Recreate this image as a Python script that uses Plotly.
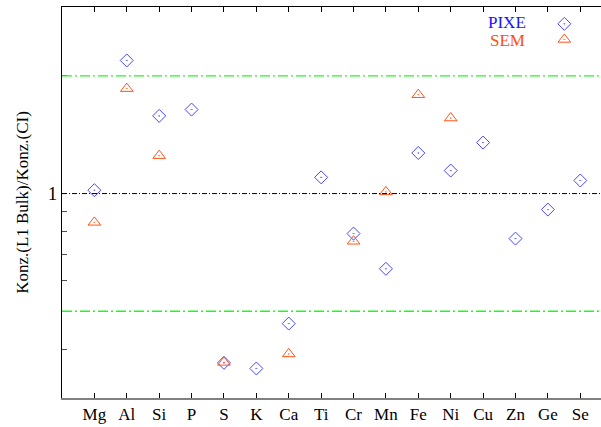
import math
import plotly.graph_objects as go

# Elements on the x axis
elements = ["Mg", "Al", "Si", "P", "S", "K", "Ca", "Ti", "Cr", "Mn",
            "Fe", "Ni", "Cu", "Zn", "Ge", "Se"]

# Concentration ratio L1 bulk / CI, measured with PIXE
pixe = [1.02, 2.19, 1.58, 1.64, 0.369, 0.357, 0.465, 1.10, 0.79, 0.642,
        1.27, 1.145, 1.35, 0.767, 0.91, 1.08]

# Same ratio measured with SEM (subset of elements)
sem_elements = ["Mg", "Al", "Si", "S", "Ca", "Cr", "Mn", "Fe", "Ni"]
sem = [0.844, 1.855, 1.25, 0.37, 0.389, 0.755, 1.01, 1.79, 1.56]

# Reference levels: unity and factor-of-two band
unity = 1.0
band = [0.5, 2.0]

ymin, ymax = 0.3, 3.0
ytickvals = [0.3, 0.4, 0.5, 0.6, 0.7, 0.8, 0.9, 1, 2, 3]
yticktext = ["", "", "", "", "", "", "", "1", "", ""]

blue = "rgb(70,70,255)"
orange = "rgb(255,85,25)"
serif = "Liberation Serif"

fig = go.Figure()

fig.add_trace(go.Scatter(
    x=elements, y=pixe, mode="markers", name="PIXE",
    marker=dict(symbol="diamond-open-dot", size=10, color=blue,
                line=dict(width=1, color=blue)),
    showlegend=False))

fig.add_trace(go.Scatter(
    x=sem_elements, y=sem, mode="markers", name="SEM",
    marker=dict(symbol="triangle-up-open-dot", size=11, color=orange,
                line=dict(width=1, color=orange)),
    showlegend=False))

# Legend symbols on an overlay axis in unit coordinates
fig.add_trace(go.Scatter(
    x=[0.932], y=[0.957], xaxis="x3", yaxis="y3", mode="markers",
    marker=dict(symbol="diamond-open-dot", size=10, color=blue,
                line=dict(width=1, color=blue)),
    showlegend=False, hoverinfo="skip"))
fig.add_trace(go.Scatter(
    x=[0.932], y=[0.917], xaxis="x3", yaxis="y3", mode="markers",
    marker=dict(symbol="triangle-up-open-dot", size=11, color=orange,
                line=dict(width=1, color=orange)),
    showlegend=False, hoverinfo="skip"))

shapes = []
for v in band:
    shapes.append(dict(type="line", xref="paper", x0=0, x1=1, yref="y",
                       y0=v, y1=v,
                       line=dict(color="rgb(30,250,30)", width=1.3,
                                 dash="10px,3px,2px,3px"),
                       layer="above"))
shapes.append(dict(type="line", xref="paper", x0=0, x1=1, yref="y",
                   y0=unity, y1=unity,
                   line=dict(color="black", width=1, dash="5px,2px,1px,2px"),
                   layer="above"))

annotations = [
    dict(text="PIXE", x=528, y=427 - 22, xref="x3", yref="y3",
         showarrow=False, font=dict(family=serif, size=17, color="rgb(20,20,255)")),
    dict(text="SEM", x=527, y=427 - 40, xref="x3", yref="y3",
         showarrow=False, font=dict(family=serif, size=17, color="rgb(255,80,10)")),
]
# convert pixel placements of the legend text into overlay-axis units
for a in annotations:
    a["x"] = (a["x"] - 62) / (601 - 62)
    a["y"] = (a["y"] - 29) / (427 - 29 - 7)
    a["xanchor"] = "right"
    a["yanchor"] = "middle"

fig.update_layout(
    width=601, height=427,
    margin=dict(l=62, r=0, t=7, b=29),
    paper_bgcolor="white", plot_bgcolor="white",
    font=dict(family=serif, size=17, color="black"),
    shapes=shapes, annotations=annotations,
    xaxis=dict(
        type="category", categoryorder="array", categoryarray=elements,
        range=[-1, 15.64], showgrid=False, zeroline=False,
        showline=True, linecolor="rgb(128,128,128)", linewidth=2,
        ticks="inside", ticklen=5, tickcolor="black", tickwidth=1,
        tickfont=dict(family=serif, size=17, color="black"),
    ),
    xaxis2=dict(
        type="category", categoryorder="array", categoryarray=elements,
        range=[-1, 15.64], overlaying="x", side="top", anchor="y",
        showgrid=False, zeroline=False, showline=True, linecolor="black",
        linewidth=1, ticks="inside", ticklen=5, tickcolor="black",
        showticklabels=False, tickvals=elements,
    ),
    yaxis=dict(
        type="log", range=[math.log10(ymin), math.log10(ymax)],
        showgrid=False, zeroline=False, showline=True, linecolor="black",
        linewidth=1, ticks="inside", ticklen=5, tickcolor="rgb(80,80,80)",
        tickvals=ytickvals, ticktext=yticktext,
        tickfont=dict(family=serif, size=19, color="black"),
        title=dict(text="Konz.(L1 Bulk)/Konz.(CI)", standoff=14,
                   font=dict(family=serif, size=17, color="black")),
    ),
    xaxis3=dict(range=[0, 1], overlaying="x", visible=False, anchor="y3"),
    yaxis3=dict(range=[0, 1], overlaying="y", visible=False, anchor="x3"),
)

# an empty trace so the top axis is drawn
fig.add_trace(go.Scatter(x=[elements[0]], y=[None], xaxis="x2", yaxis="y",
                         mode="markers", showlegend=False, hoverinfo="skip"))

fig.write_html("out.html")
